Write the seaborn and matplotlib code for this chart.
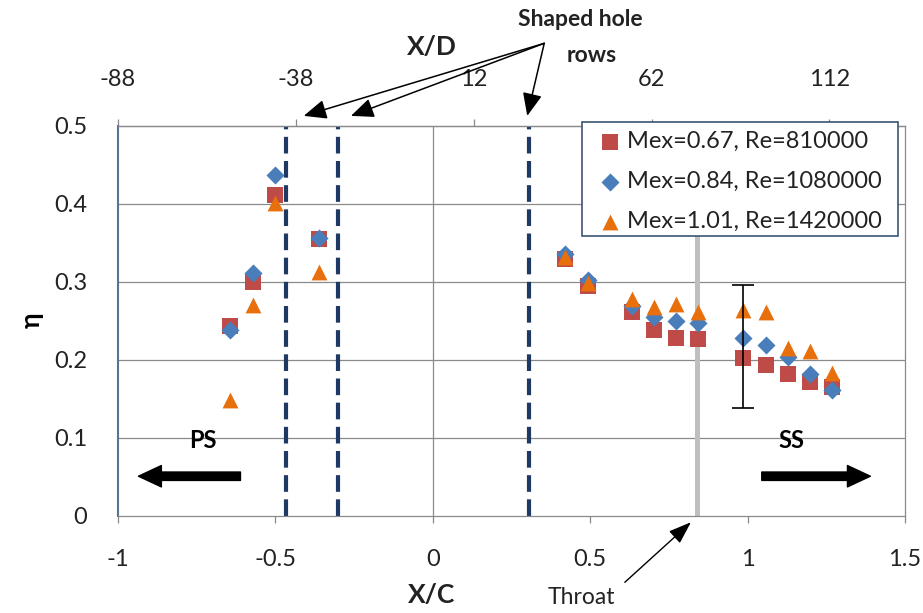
import numpy as np
import pandas as pd
import matplotlib
matplotlib.use("Agg")
import matplotlib.pyplot as plt
from matplotlib.patches import Rectangle
import seaborn as sns

# ---- data -------------------------------------------------------------
x_c = [-0.643, -0.572, -0.500, -0.360,
       0.421, 0.493, 0.634, 0.703, 0.774, 0.843,
       0.986, 1.058, 1.127, 1.198, 1.267]
eta_067 = [0.243, 0.300, 0.411, 0.355,
           0.329, 0.295, 0.262, 0.238, 0.228, 0.227,
           0.203, 0.194, 0.182, 0.172, 0.166]
eta_084 = [0.238, 0.312, 0.437, 0.357,
           0.336, 0.302, 0.269, 0.255, 0.250, 0.248,
           0.228, 0.219, 0.204, 0.182, 0.162]
eta_101 = [0.149, 0.270, 0.401, 0.313,
           0.332, 0.299, 0.278, 0.268, 0.272, 0.261,
           0.264, 0.262, 0.215, 0.212, 0.183]
series_labels = ["Mex=0.67, Re=810000",
                 "Mex=0.84, Re=1080000",
                 "Mex=1.01, Re=1420000"]

hole_rows = [-0.465, -0.300, 0.305]   # shaped hole row locations, X/C
throat_x = 0.84
err_x = 0.985
err_lo, err_hi = 0.139, 0.296

xc_ticks = [-1, -0.5, 0, 0.5, 1, 1.5]
xc_ticklabels = ["-1", "-0.5", "0", "0.5", "1", "1.5"]
eta_ticks = [0, 0.1, 0.2, 0.3, 0.4, 0.5]
eta_ticklabels = ["0", "0.1", "0.2", "0.3", "0.4", "0.5"]
xd_ticks = [-88, -38, 12, 62, 112]

# ---- style ------------------------------------------------------------
sns.set_style("white")
plt.rcParams["font.family"] = ["Lato", "DejaVu Sans"]

GRID = "#8a8a8a"
TXT = "#222222"
colors = ["#BE4B48", "#4A7EBB", "#E8700C"]
markers = ["s", "D", "^"]
sizes = [125, 85, 130]

df = pd.DataFrame({
    "xc": x_c * 3,
    "eta": eta_067 + eta_084 + eta_101,
    "series": sum([[lab] * len(x_c) for lab in series_labels], []),
})

W, H = 923, 613
fig = plt.figure(figsize=(W / 100, H / 100), dpi=100)
ax = fig.add_axes([118 / W, 1 - 516 / H, (905 - 118) / W, (516 - 126) / H])

ax.set_xlim(-1, 1.5)
ax.set_ylim(0, 0.5)

# horizontal grid + the x=0 line
for y in eta_ticks[1:-1]:
    ax.axhline(y, color=GRID, lw=0.9, zorder=1)
ax.axvline(0, color=GRID, lw=0.9, zorder=1)

# throat and hole rows
ax.axvline(throat_x, color="#BFBFBF", lw=3.6, zorder=2)
for xr in hole_rows:
    ax.axvline(xr, color="#1F3864", lw=3.0, ls=(0, (4.0, 1.8)), zorder=2)

# scatter series
for lab, m, c, s in zip(series_labels, markers, colors, sizes):
    sns.scatterplot(data=df[df["series"] == lab], x="xc", y="eta",
                    marker=m, color=c, s=s, linewidth=0, ax=ax,
                    label=lab, zorder=5)

# uncertainty bar
ax.errorbar([err_x], [(err_lo + err_hi) / 2], yerr=[(err_hi - err_lo) / 2],
            fmt="none", ecolor="black", elinewidth=1.2, capsize=8,
            capthick=1.2, zorder=6)

# axes styling
for side in ["top", "right", "bottom"]:
    ax.spines[side].set_color(GRID)
    ax.spines[side].set_linewidth(0.9)
ax.spines["left"].set_color("#5B7393")
ax.spines["left"].set_linewidth(1.5)

ax.set_xticks(xc_ticks)
ax.set_xticklabels(xc_ticklabels)
ax.set_yticks(eta_ticks)
ax.set_yticklabels(eta_ticklabels)
ax.tick_params(axis="x", direction="out", length=5, width=0.9, color=GRID,
               pad=19, labelsize=17, labelcolor=TXT, bottom=True)
ax.tick_params(axis="y", length=0, pad=22, labelsize=17, labelcolor=TXT)
ax.set_xlabel("")
ax.set_ylabel("")

# top X/D axis
def c2d(x):
    return -88 + (np.asarray(x) + 1) * 88.5

def d2c(d):
    return (np.asarray(d) + 88) / 88.5 - 1

secax = ax.secondary_xaxis("top", functions=(c2d, d2c))
secax.set_xticks(xd_ticks)
secax.set_xticklabels([str(t) for t in xd_ticks])
secax.tick_params(direction="out", length=5, width=0.9, color=GRID,
                  pad=21, labelsize=17, labelcolor=TXT)
secax.spines["top"].set_color(GRID)
secax.spines["top"].set_linewidth(0.9)

# legend: entries without frame, box drawn separately underneath
leg = ax.legend(loc="upper left", bbox_to_anchor=(597 / W, 1 - 131 / H),
                bbox_transform=fig.transFigure, frameon=False,
                fontsize=17, handletextpad=0.15, labelspacing=0.8,
                borderpad=0, handlelength=1.1, borderaxespad=0)
leg.set_zorder(12)
for t in leg.get_texts():
    t.set_color(TXT)
ax.add_patch(Rectangle((582 / W, 1 - 236 / H), (898 - 582) / W,
                       (236 - 122) / H, transform=fig.transFigure,
                       facecolor="white", edgecolor="#3B5573",
                       lw=1.2, zorder=11, clip_on=False))

# axis titles
fig.text(432 / W, 1 - 47 / H, "X/D", ha="center", va="center",
         fontsize=19, fontweight="bold", color=TXT)
fig.text(432 / W, 1 - 595 / H, "X/C", ha="center", va="center",
         fontsize=19, fontweight="bold", color=TXT)
fig.text(32 / W, 1 - 320 / H, "η", ha="center", va="center",
         fontsize=19, fontweight="bold", rotation=90, color="black")

# shaped hole annotation
fig.text(580 / W, 1 - 20 / H, "Shaped hole", ha="center", va="center",
         fontsize=16.5, fontweight="bold", color=TXT)
fig.text(592 / W, 1 - 56 / H, "rows", ha="center", va="center",
         fontsize=16.5, fontweight="bold", color=TXT)
apex = (0.354, 0.606)
for tip in [(-0.41, 0.513), (-0.26, 0.513), (0.300, 0.513)]:
    ax.annotate("", xy=tip, xytext=apex, annotation_clip=False,
                arrowprops=dict(arrowstyle="-|>,head_length=0.7,head_width=0.3",
                                mutation_scale=20, color="black", lw=1.1,
                                shrinkA=0, shrinkB=0))

# throat annotation
fig.text(581 / W, 1 - 598 / H, "Throat", ha="center", va="center",
         fontsize=16.5, color=TXT)
ax.annotate("", xy=(0.82, -0.008), xytext=(0.61, -0.085),
            annotation_clip=False,
            arrowprops=dict(arrowstyle="-|>,head_length=0.7,head_width=0.25",
                            mutation_scale=20, color="black", lw=1.0,
                            shrinkA=0, shrinkB=0))

# pressure / suction side markers
ax.text(-0.729, 0.097, "PS", ha="center", va="center", fontsize=17,
        fontweight="bold", color="black")
ax.text(1.14, 0.097, "SS", ha="center", va="center", fontsize=17,
        fontweight="bold", color="black")
big = dict(arrowstyle="simple,head_length=1.5,head_width=1.4,tail_width=0.55",
           mutation_scale=11, color="black", shrinkA=0, shrinkB=0)
ax.annotate("", xy=(-0.935, 0.051), xytext=(-0.611, 0.051), arrowprops=big)
ax.annotate("", xy=(1.39, 0.051), xytext=(1.045, 0.051), arrowprops=big)

fig.savefig("out.png", dpi=100, facecolor="white")
